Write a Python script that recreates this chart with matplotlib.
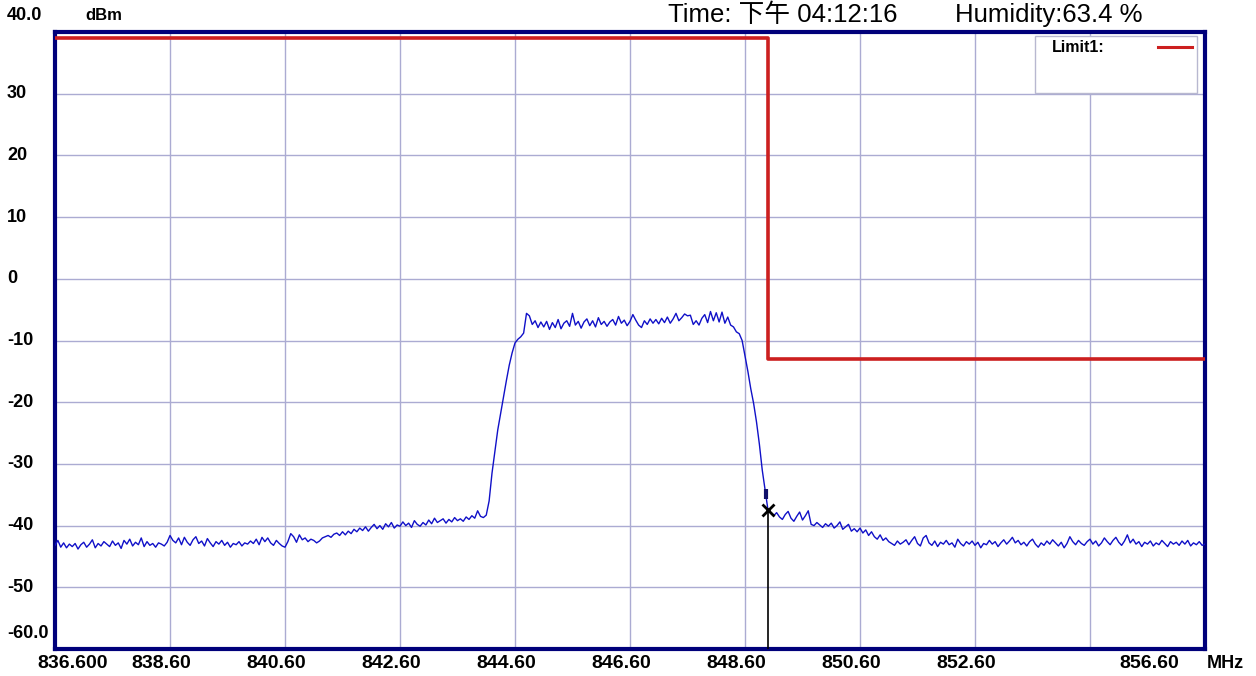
import numpy as np
import matplotlib
matplotlib.use("Agg")
import matplotlib.pyplot as plt
from matplotlib.transforms import blended_transform_factory

# sweep: 836.6 - 856.6 MHz, 401 points (0.05 MHz step)
f_start, f_stop = 836.6, 856.6
level = [
    # 836.60 - 838.55
    -43.2, -42.4, -43.5, -42.8, -43.6, -43.0, -43.4, -42.9, -43.8, -43.1,
    -42.7, -43.5, -43.0, -42.3, -43.6, -42.9, -43.3, -42.6, -43.0, -43.4,
    -42.5, -43.2, -42.8, -43.7, -42.4, -43.0, -42.2, -43.3, -42.7, -43.1,
    -42.0, -43.4, -42.6, -43.2, -42.9, -43.5, -42.8, -43.0, -43.3, -42.7,
    # 838.60 - 840.55
    -41.6, -42.4, -42.8, -42.0, -43.1, -41.9, -42.7, -43.2, -42.3, -41.8,
    -42.9, -42.5, -43.3, -42.1, -42.8, -43.4, -42.6, -43.0, -42.4, -43.2,
    -42.7, -43.5, -42.9, -43.1, -42.6, -43.3, -42.8, -43.0, -42.5, -42.9,
    -42.2, -43.1, -41.9, -42.6, -42.0, -42.8, -43.2, -42.4, -42.9, -43.3,
    # 840.60 - 842.55
    -43.5, -42.6, -41.3, -41.8, -42.7, -41.5, -42.3, -42.0, -42.6, -42.2,
    -42.4, -42.8, -42.5, -42.0, -41.8, -41.6, -41.9, -41.4, -41.2, -41.6,
    -41.0, -41.5, -40.9, -41.3, -40.6, -41.0, -40.4, -40.8, -40.2, -40.9,
    -40.3, -39.8, -40.5, -40.0, -40.6, -39.7, -40.2, -39.5, -40.4, -39.9,
    # 842.60 - 844.05
    -40.1, -39.4, -40.0, -39.6, -40.3, -39.2, -39.8, -40.1, -39.5, -39.9,
    -39.1, -39.7, -38.8, -39.5, -39.2, -38.9, -39.6, -39.0, -39.4, -38.7,
    -39.2, -38.9, -39.3, -38.6, -39.0, -38.4, -38.8, -37.6, -38.5, -38.7,
    # 844.10 - 844.55 (rising edge)
    -38.3, -36.0, -31.5, -28.0, -24.5, -21.8, -19.0, -16.5, -14.0, -12.0,
    # 844.60 - 848.55 (channel)
    -10.4, -9.8, -9.4, -8.8, -5.6, -6.0, -7.4, -6.8, -7.9, -7.0,
    -7.8, -6.9, -8.2, -7.1, -7.9, -6.6, -8.1, -7.2, -6.8, -7.7,
    -5.6, -7.5, -6.9, -8.0, -7.0, -6.5, -7.6, -6.8, -7.8, -6.3,
    -7.4, -6.9, -7.7, -7.0, -6.6, -7.5, -6.1, -7.2, -6.7, -7.6,
    -6.9, -5.8, -6.7, -7.5, -7.9, -6.8, -7.4, -6.5, -7.2, -6.6,
    -7.3, -6.4, -7.1, -6.2, -7.2, -6.5, -5.6, -6.8, -6.3, -5.7,
    -6.0, -5.9, -7.4, -6.8, -7.5, -6.4, -5.8, -7.1, -5.3, -6.8,
    -5.5, -7.0, -5.4, -7.2, -6.2, -7.5, -7.8, -8.6, -8.9, -10.0,
    # 848.60 - 849.05 (falling edge)
    -12.5, -15.0, -17.8, -20.2, -23.2, -26.8, -31.0, -34.3, -37.5, -38.0,
    # 849.10 - 851.05
    -38.4, -37.9, -38.6, -39.0, -38.2, -37.7, -38.8, -39.3, -38.5, -37.8,
    -39.1, -38.4, -37.6, -39.8, -40.0, -39.5, -39.9, -40.3, -39.7, -40.1,
    -39.6, -40.4, -40.0, -39.4, -40.6, -40.2, -39.8, -40.9, -40.5, -41.0,
    -40.4, -41.2, -40.7, -41.6, -41.0, -41.8, -42.2, -41.5, -42.4, -42.0,
    # 851.10 - 856.60
    -42.6, -42.9, -43.2, -42.5, -43.0, -42.7, -42.3, -43.1, -42.4, -41.8,
    -42.9, -43.3, -42.0, -41.6, -42.8, -43.2, -42.5, -43.4, -42.7, -43.0,
    -42.4, -43.1, -42.8, -43.5, -42.2, -42.9, -43.3, -42.6, -43.0, -42.5,
    -43.2, -42.7, -43.6, -42.9, -43.1, -42.4, -43.0, -42.6, -43.4, -42.8,
    -42.3, -43.0, -42.5, -41.9, -42.8, -42.4, -43.1, -42.7, -43.3, -42.6,
    -42.2, -43.0, -43.5, -42.8, -43.2, -42.5, -43.0, -42.3, -42.8, -43.3,
    -42.7, -43.6, -42.9, -41.8, -42.6, -43.1, -42.4, -42.9, -43.2, -42.6,
    -42.2, -43.0, -42.5, -43.3, -42.8, -42.0, -42.6, -43.1, -42.4, -41.9,
    -42.7, -43.2, -42.5, -41.5, -42.8, -42.2, -43.0, -42.6, -43.4, -42.7,
    -43.0, -42.5, -43.3, -42.8, -43.1, -42.4, -42.9, -43.4, -42.6, -43.0,
    -42.7, -43.2, -42.5, -43.0, -42.4, -43.3, -42.8, -43.1, -42.6, -43.2,
    -43.0,
]

# limit line (dBm) and its break frequency
limit_freq = [836.6, 849.0, 849.0, 856.6]
limit_level = [39.0, 39.0, -13.0, -13.0]

marker_freq = 849.0
marker_level = -37.5

y_ticks = [40, 30, 20, 10, 0, -10, -20, -30, -40, -50, -60]
y_labels = ["40.0", "30", "20", "10", "0", "-10", "-20", "-30", "-40", "-50", "-60.0"]
x_grid = [838.6, 840.6, 842.6, 844.6, 846.6, 848.6, 850.6, 852.6, 854.6]
x_labels = ["836.600", "838.60", "840.60", "842.60", "844.60", "846.60", "848.60",
            "850.60", "852.60", "856.60"]
x_label_pos = [836.9, 838.45, 840.45, 842.45, 844.45, 846.45, 848.45, 850.45, 852.45, 855.63]

navy = "#00007a"
grid_c = "#ababd2"
lab_font = ["Liberation Sans", "DejaVu Sans"]

freq = np.linspace(f_start, f_stop, len(level))

fig = plt.figure(figsize=(12.56, 6.76), dpi=100)
ax = fig.add_axes([55 / 1256, 27 / 676, 1150 / 1256, 617 / 676])
ax.set_xlim(f_start, f_stop)
ax.set_ylim(-60, 40)

for g in x_grid:
    ax.axvline(g, color=grid_c, lw=1, zorder=1)
for t in y_ticks[1:-1]:
    ax.axhline(t, color=grid_c, lw=1, zorder=1)

ax.plot(freq, level, color="#1010c8", lw=1.0, zorder=3)
ax.plot(limit_freq, limit_level, color="#cc1f1f", lw=2.6, zorder=4)

# marker
ax.plot([marker_freq, marker_freq], [-60, marker_level], color="black", lw=1.2, zorder=5)
ax.plot([marker_freq], [marker_level], marker="x", color="black", ms=9, mew=2, zorder=6)
ax.plot([marker_freq - 0.03, marker_freq - 0.03], [marker_level + 1.8, marker_level + 3.4],
        color="#10106a", lw=3, solid_capstyle="butt", zorder=6)

ax.set_xticks([])
ax.set_yticks([])
for s in ax.spines.values():
    s.set_color(navy)
    s.set_linewidth(3)

# y labels
ty = blended_transform_factory(fig.transFigure, ax.transData)
for t, lab in zip(y_ticks, y_labels):
    yy = t
    if t == 40:
        yy = 42.7
    elif t == -60:
        yy = -57.5
    ax.text(7 / 1256, yy, lab, transform=ty, ha="left", va="center",
            fontsize=13, fontweight="bold", family=lab_font, clip_on=False)
ax.text(85 / 1256, 42.7, "dBm", transform=ty, ha="left", va="center",
        fontsize=12, fontweight="bold", family=lab_font, clip_on=False)

# x labels
tx = blended_transform_factory(ax.transData, fig.transFigure)
for xp, lab in zip(x_label_pos, x_labels):
    ax.text(xp, 13 / 676, lab, transform=tx, ha="center", va="center",
            fontsize=14, fontweight="bold", family=lab_font, clip_on=False)
fig.text(1207 / 1256, 13 / 676, "MHz", ha="left", va="center",
         fontsize=13, fontweight="bold", family=lab_font)

# header
top_font = ["Liberation Sans", "Noto Sans CJK SC", "DejaVu Sans"]
fig.text(668 / 1256, 1 - 15 / 676, "Time: 下午 04:12:16", ha="left", va="center",
         fontsize=18.5, family=top_font)
fig.text(955 / 1256, 1 - 15 / 676, "Humidity:63.4 %", ha="left", va="center",
         fontsize=18.5, family=top_font)

# legend box
fig.patches.append(plt.Rectangle((1035 / 1256, 1 - 93 / 676), 162 / 1256, 57 / 676,
                                 transform=fig.transFigure, facecolor="white",
                                 edgecolor="#b8b8d0", lw=1, zorder=10))
fig.text(1052 / 1256, 1 - 47 / 676, "Limit1:", ha="left", va="center",
         fontsize=11.5, fontweight="bold", family=lab_font, zorder=11)
fig.add_artist(plt.Line2D([1158 / 1256, 1192 / 1256], [1 - 47 / 676, 1 - 47 / 676],
                          transform=fig.transFigure, color="#cc1f1f", lw=2.2, zorder=11))

fig.savefig("out.png", dpi=100, facecolor="white")
